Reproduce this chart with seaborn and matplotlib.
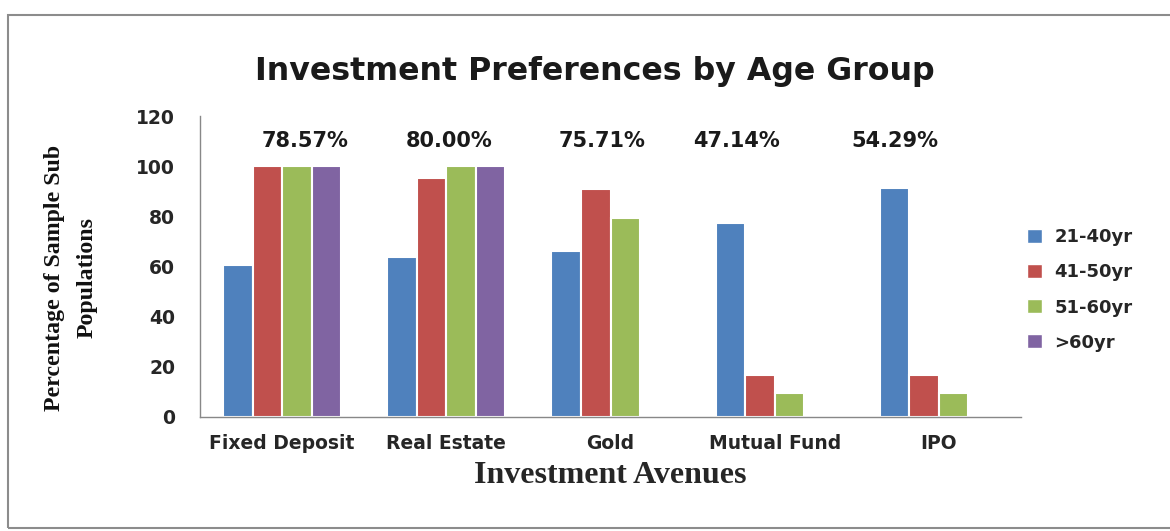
import matplotlib
matplotlib.use("Agg")
import matplotlib.pyplot as plt
import numpy as np
import pandas as pd
import seaborn as sns
from matplotlib.patches import Rectangle, Patch

# data
avenues = ["Fixed Deposit", "Real Estate", "Gold", "Mutual Fund", "IPO"]
age_groups = ["21-40yr", "41-50yr", "51-60yr", ">60yr"]
age_21_40 = [60.7, 63.6, 66.1, 77.3, 91.3]
age_41_50 = [100, 95.2, 90.9, 16.7, 16.7]
age_51_60 = [100, 100, 79.5, 9.5, 9.5]
age_60_plus = [100, 100, np.nan, np.nan, np.nan]
overall_pct = ["78.57%", "80.00%", "75.71%", "47.14%", "54.29%"]

colors = ["#4F81BD", "#C0504D", "#9BBB59", "#8064A2"]

df = pd.DataFrame({
    "avenue": avenues * 4,
    "age": np.repeat(age_groups, len(avenues)),
    "pct": age_21_40 + age_41_50 + age_51_60 + age_60_plus,
})

sns.set_style("white")
plt.rcParams["font.family"] = ["DejaVu Sans"]

fig = plt.figure(figsize=(11.7, 5.31), dpi=100)
ax = fig.add_axes([0.171, 0.2147, 0.7016, 0.5668])

sns.barplot(data=df, x="avenue", y="pct", hue="age", order=avenues,
            hue_order=age_groups, palette=colors, width=0.72, saturation=1,
            edgecolor="white", linewidth=1.5, legend=False, ax=ax)

ax.set_ylim(0, 120)
ax.set_yticks(range(0, 121, 20))
ax.set_xlim(-0.5, len(avenues) - 0.5)

# category boundary ticks on the x axis
ax.set_xticks(np.arange(len(avenues)))
ax.set_xticklabels(avenues, fontsize=13.5, fontweight="bold")
ax.set_xticks(np.arange(-0.5, len(avenues)), minor=True)
ax.tick_params(axis="x", which="major", length=0, pad=12)
ax.tick_params(axis="x", which="minor", length=6, width=1, color="#888888", direction="out")
ax.tick_params(axis="y", length=7, width=1, color="#888888", direction="out", pad=11,
               labelsize=13.5)
for lab in ax.get_yticklabels():
    lab.set_fontweight("bold")

for s in ["top", "right"]:
    ax.spines[s].set_visible(False)
for s in ["left", "bottom"]:
    ax.spines[s].set_color("#888888")
    ax.spines[s].set_linewidth(1)

ax.set_xlabel("Investment Avenues", family="Liberation Serif", fontweight="bold",
              fontsize=23, labelpad=6)
ax.set_ylabel("")
fig.text(71 / 1170, 1 - 278 / 531, "Percentage of Sample Sub\nPopulations",
         family="Liberation Serif", fontweight="bold", fontsize=17.2, rotation=90,
         ha="center", va="center", multialignment="center", linespacing=1.75,
         color="#111111")

# overall percentage labels above each group
label_offsets = [0.14, 0.02, -0.05, -0.23, -0.27]
for i, txt in enumerate(overall_pct):
    ax.text(i + label_offsets[i], 110, txt, ha="center", va="center",
            fontsize=15, fontweight="bold", color="#1a1a1a")

fig.text(0.508, 0.865, "Investment Preferences by Age Group", ha="center", va="center",
         fontsize=22.8, fontweight="bold", color="#1a1a1a")

handles = [Patch(facecolor=c, edgecolor="white") for c in colors]
leg = fig.legend(handles, age_groups, loc="center left", bbox_to_anchor=(0.864, 0.454),
                 frameon=False, prop={"weight": "bold", "size": 13},
                 handlelength=0.8, handleheight=0.8, labelspacing=0.95, handletextpad=0.7)

# outer chart border
fig.patches.append(Rectangle((8 / 1170, 1 - 528 / 531), 1.2, (528 - 15) / 531,
                             transform=fig.transFigure, fill=False,
                             edgecolor="#8c8c8c", linewidth=1.5, figure=fig))

fig.savefig("out.png", dpi=100)
